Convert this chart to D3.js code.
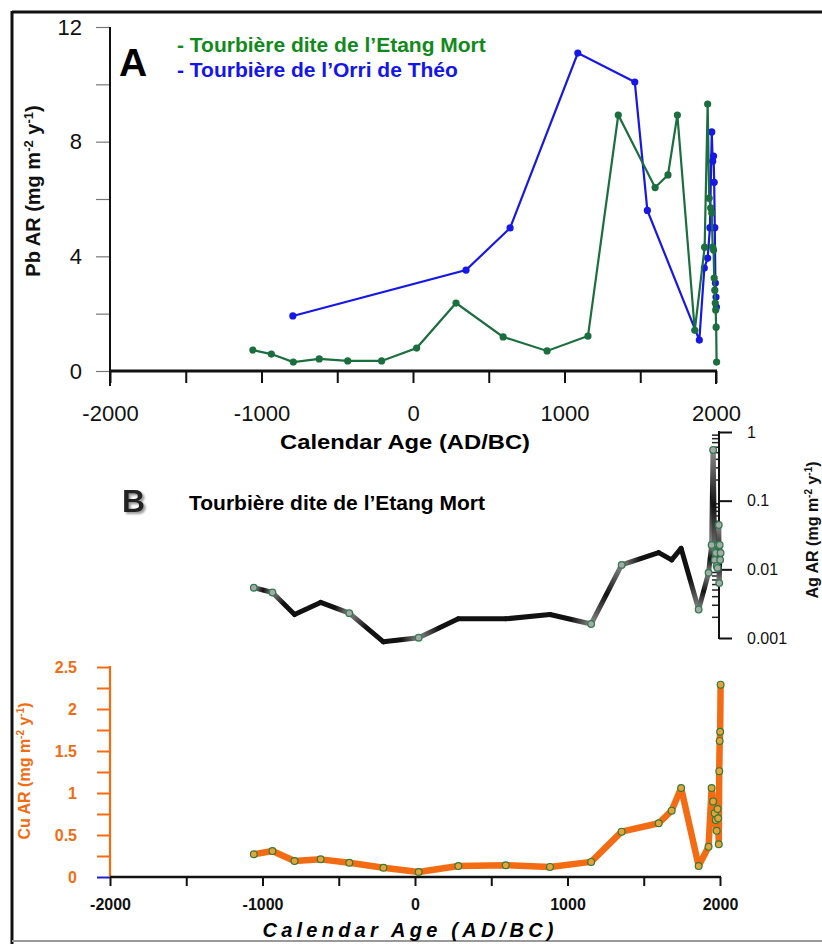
<!DOCTYPE html>
<html><head><meta charset="utf-8">
<script src="https://cdn.jsdelivr.net/npm/d3@7"></script>
<style>
html,body{margin:0;padding:0;background:#fff;}
svg{display:block;font-family:"Liberation Sans",Arial,sans-serif;}
</style></head>
<body>
<svg id="chart" width="822" height="944"></svg>
<script>
// ---------- DATA ----------
// Tourbière dite de l'Etang Mort (shared sample ages)
const etangYears = [-1057,-935,-790,-619,-431,-207,24,284,595,885,1155,1355,1598,1683,1745,1860,
  1925,1945,1955,1965,1972,1978,1984,1988,1992,1995,1998,2001,2004];
const etangPb = [0.73,0.59,0.31,0.42,0.35,0.35,0.80,2.37,1.19,0.70,1.22,8.93,6.40,6.84,8.93,1.42,
  4.32,9.31,6.03,5.69,5.51,4.32,4.22,3.24,2.82,2.37,2.13,1.53,0.31];
const etangAg = [0.0054,0.0046,0.0022,0.0033,0.0023,0.00088,0.00101,0.0019,0.0019,0.0022,0.0016,0.0116,0.0175,0.0137,0.0202,0.0026,
  0.0089,0.0226,0.547,0.0137,0.0173,0.0112,0.0105,0.0226,0.0442,0.0063,0.0226,0.0137,0.0173];
const etangAgMarked = [1,1,0,0,1,0,1,0,0,0,1,1,0,0,0,1, 1,1,1,1,1,1,1,1,1,1,1,1,1];
const etangCu = [0.27,0.31,0.19,0.21,0.17,0.11,0.06,0.13,0.14,0.12,0.18,0.54,0.64,0.79,1.06,0.13,
  0.36,1.06,0.90,0.76,0.68,0.55,0.81,0.70,0.39,1.26,1.62,1.73,2.29];
// Tourbière de l'Orri de Théo
const orriYears = [-793,350,641,1088,1464,1547,1890,1923,1945,1960,1972,1978,1984,1988,1992,1996,2000,2003];
const orriPb = [1.92,3.52,4.99,11.09,10.08,5.60,1.08,3.59,3.94,5.0,8.34,7.32,7.5,6.58,5.0,3.07,2.58,2.23];
// Tick values
const pbTicks = [0,2,4,6,8,10,12];
const pbTickLabels = [0,4,8,12];
const yearTicks = [-2000,-1500,-1000,-500,0,500,1000,1500,2000];
const yearTickLabels = [-2000,-1000,0,1000,2000];
const agTicks = [0.001,0.01,0.1,1];
const cuTicks = [0,0.25,0.5,0.75,1,1.25,1.5,1.75,2,2.25,2.5];
const cuTickLabels = [0,0.5,1,1.5,2,2.5];
const legendLabels = ["- Tourbière dite de l\u2019Etang Mort","- Tourbière de l\u2019Orri de Théo"];

// ---------- SETUP ----------
const svg = d3.select("#chart");
const GREEN = "#1b6e3e", BLUE = "#1717e8", ORANGE = "#f36c13";
const defs = svg.append("defs");
const shadow = defs.append("filter").attr("id","shadowB").attr("x","-20%").attr("y","-20%").attr("width","160%").attr("height","160%");
shadow.append("feDropShadow").attr("dx",2).attr("dy",2).attr("stdDeviation",0.8).attr("flood-color","#999");

// frame
svg.append("line").attr("x1",12).attr("x2",822).attr("y1",12).attr("y2",12).attr("stroke","#111").attr("stroke-width",3);
svg.append("line").attr("x1",12).attr("x2",12).attr("y1",11).attr("y2",944).attr("stroke","#111").attr("stroke-width",3);
svg.append("line").attr("x1",12).attr("x2",822).attr("y1",941).attr("y2",941).attr("stroke","#999").attr("stroke-width",2);

// ---------- PANEL A ----------
const xA = d3.scaleLinear().domain([-2000,2000]).range([110,716]);
const yPb = d3.scaleLinear().domain([0,12]).range([371,27]);

const gyA = svg.append("g").attr("transform","translate(110,0)")
  .call(d3.axisLeft(yPb).tickValues(pbTicks).tickSize(14).tickPadding(14)
     .tickFormat(d => pbTickLabels.includes(d) ? d : ""));
gyA.select(".domain").remove();
gyA.selectAll(".tick line").attr("stroke","#777").attr("stroke-width",1.2);
gyA.selectAll(".tick text").attr("font-size",22).attr("fill","#111");
svg.append("line").attr("x1",110).attr("x2",110).attr("y1",27).attr("y2",386).attr("stroke","#111").attr("stroke-width",2);

const gxA = svg.append("g").attr("transform","translate(0,371)")
  .call(d3.axisBottom(xA).tickValues(yearTicks).tickSize(12).tickPadding(22)
     .tickFormat(d => yearTickLabels.includes(d) ? String(d) : ""));
gxA.select(".domain").remove();
gxA.selectAll(".tick line").attr("stroke","#111").attr("stroke-width",2);
gxA.selectAll(".tick text").attr("font-size",22).attr("fill","#111");
svg.append("line").attr("x1",110).attr("x2",717).attr("y1",371).attr("y2",371).attr("stroke","#111").attr("stroke-width",3);
svg.append("line").attr("x1",716).attr("x2",716).attr("y1",371).attr("y2",384).attr("stroke","#111").attr("stroke-width",2);

svg.append("text").attr("x",405).attr("y",449).attr("text-anchor","middle")
  .attr("font-size",21).attr("font-weight","bold").attr("textLength",250).attr("lengthAdjust","spacingAndGlyphs")
  .text("Calendar Age (AD/BC)");

// Pb axis title
const pbT = svg.append("text").attr("transform","translate(40,191) rotate(-90)").attr("text-anchor","middle")
  .attr("font-size",20).attr("font-weight","bold").attr("fill","#111");
pbT.append("tspan").text("Pb AR (mg m");
pbT.append("tspan").attr("font-size",13).attr("dy",-7).text("-2");
pbT.append("tspan").attr("dy",7).text(" y");
pbT.append("tspan").attr("font-size",13).attr("dy",-7).text("-1");
pbT.append("tspan").attr("dy",7).text(")");

svg.append("text").attr("x",119).attr("y",76).attr("font-size",39).attr("font-weight","bold").attr("fill","#000").text("A");
svg.append("text").attr("x",177).attr("y",52).attr("font-size",21).attr("font-weight","bold").attr("fill","#118a1b").text(legendLabels[0]);
svg.append("text").attr("x",177).attr("y",77).attr("font-size",21).attr("font-weight","bold").attr("fill","#1414ee").text(legendLabels[1]);

const lineA = d3.line().x(d => xA(d[0])).y(d => yPb(d[1]));
const orri = orriYears.map((y,i) => [y, orriPb[i]]);
const etang = etangYears.map((y,i) => [y, etangPb[i]]);
svg.append("path").datum(orri).attr("d",lineA).attr("fill","none").attr("stroke",BLUE).attr("stroke-width",2.2);
svg.selectAll(".bp").data(orri).enter().append("circle").attr("cx",d=>xA(d[0])).attr("cy",d=>yPb(d[1])).attr("r",3.6).attr("fill",BLUE);
svg.append("path").datum(etang).attr("d",lineA).attr("fill","none").attr("stroke",GREEN).attr("stroke-width",2.2);
svg.selectAll(".gp").data(etang).enter().append("circle").attr("cx",d=>xA(d[0])).attr("cy",d=>yPb(d[1])).attr("r",3.6).attr("fill",GREEN);

// ---------- PANEL B ----------
const xB = d3.scaleLinear().domain([-2000,2000]).range([110,720]);
const yAg = d3.scaleLog().domain([0.001,1]).range([638,432]);
const yCu = d3.scaleLinear().domain([0,2.5]).range([877,667]);

svg.append("text").attr("x",122).attr("y",512).attr("font-size",32).attr("font-weight","bold").attr("fill","#222")
  .attr("filter","url(#shadowB)").text("B");
svg.append("text").attr("x",189).attr("y",510).attr("font-size",21).attr("font-weight","bold").attr("fill","#000").text("Tourbière dite de l\u2019Etang Mort");

// Ag axis
const gAg = svg.append("g").attr("transform","translate(719,0)")
  .call(d3.axisRight(yAg).tickValues(agTicks).tickSize(13).tickPadding(15).tickFormat(d => String(d)));
gAg.select(".domain").remove();
gAg.selectAll(".tick line").attr("stroke","#111").attr("stroke-width",2);
gAg.selectAll(".tick text").attr("font-size",16).attr("fill","#111");
const minor = [];
for (let e = -3; e < 0; e++) for (let m = 2; m <= 9; m++) minor.push(m * Math.pow(10, e));
svg.selectAll(".agm").data(minor).enter().append("line")
  .attr("x1",712).attr("x2",719).attr("y1",d=>yAg(d)).attr("y2",d=>yAg(d)).attr("stroke","#222").attr("stroke-width",1.5);
svg.append("line").attr("x1",719).attr("x2",719).attr("y1",431).attr("y2",639).attr("stroke","#111").attr("stroke-width",2);

const agT = svg.append("text").attr("transform","translate(818,530) rotate(-90)").attr("text-anchor","middle")
  .attr("font-size",16).attr("font-weight","bold").attr("fill","#111");
agT.append("tspan").text("Ag AR (mg m");
agT.append("tspan").attr("font-size",10).attr("dy",-6).text("-2");
agT.append("tspan").attr("dy",6).text(" y");
agT.append("tspan").attr("font-size",10).attr("dy",-6).text("-1");
agT.append("tspan").attr("dy",6).text(")");

// Ag line with per-segment shading
const ag = etangYears.map((y,i) => ({x:xB(y), y:yAg(etangAg[i]), m:etangAgMarked[i]}));
for (let i = 0; i < ag.length - 1; i++) {
  const a = ag[i], b = ag[i+1];
  const gid = "agg" + i;
  const g = defs.append("linearGradient").attr("id",gid).attr("gradientUnits","userSpaceOnUse")
    .attr("x1",a.x).attr("y1",a.y).attr("x2",b.x).attr("y2",b.y);
  g.append("stop").attr("offset",0).attr("stop-color",a.m ? "#8a8a8a" : "#111");
  g.append("stop").attr("offset",0.5).attr("stop-color","#111");
  g.append("stop").attr("offset",1).attr("stop-color",b.m ? "#8a8a8a" : "#111");
  svg.append("line").attr("x1",a.x).attr("y1",a.y).attr("x2",b.x).attr("y2",b.y)
    .attr("stroke",`url(#${gid})`).attr("stroke-width",5).attr("stroke-linecap","round");
}
svg.selectAll(".agp").data(ag.filter(d => d.m)).enter().append("circle")
  .attr("cx",d=>d.x).attr("cy",d=>d.y).attr("r",3.3).attr("fill","#a8a8a8").attr("stroke","#2e7d4f").attr("stroke-width",1.3);

// Cu axis
const gCu = svg.append("g").attr("transform","translate(110,0)")
  .call(d3.axisLeft(yCu).tickValues(cuTicks).tickSize(13).tickPadding(20)
    .tickFormat(d => cuTickLabels.includes(d) ? String(d) : ""));
gCu.select(".domain").remove();
gCu.selectAll(".tick line").attr("stroke",ORANGE).attr("stroke-width",2);
gCu.selectAll(".tick text").attr("font-size",16).attr("font-weight","bold").attr("fill",ORANGE);
gCu.selectAll(".tick").filter(d => d === 0).select("line").attr("stroke","#2020d0");
svg.append("line").attr("x1",110).attr("x2",110).attr("y1",666).attr("y2",877).attr("stroke",ORANGE).attr("stroke-width",2.2);

const cuT = svg.append("text").attr("transform","translate(30,771) rotate(-90)").attr("text-anchor","middle")
  .attr("font-size",16).attr("font-weight","bold").attr("fill",ORANGE);
cuT.append("tspan").text("Cu AR (mg m");
cuT.append("tspan").attr("font-size",10).attr("dy",-6).text("-2");
cuT.append("tspan").attr("dy",6).text(" y");
cuT.append("tspan").attr("font-size",10).attr("dy",-6).text("-1");
cuT.append("tspan").attr("dy",6).text(")");

// bottom x axis
const gxB = svg.append("g").attr("transform","translate(0,877)")
  .call(d3.axisBottom(xB).tickValues(yearTicks).tickSize(9).tickPadding(13)
    .tickFormat(d => yearTickLabels.includes(d) ? String(d) : ""));
gxB.select(".domain").remove();
gxB.selectAll(".tick line").attr("stroke","#111").attr("stroke-width",2);
gxB.selectAll(".tick text").attr("font-size",16).attr("font-weight","bold").attr("fill","#111");
svg.append("line").attr("x1",110).attr("x2",721).attr("y1",877).attr("y2",877).attr("stroke","#111").attr("stroke-width",2.6);

svg.append("text").attr("x",408).attr("y",937).attr("text-anchor","middle")
  .attr("font-size",20).attr("font-weight","bold").attr("font-style","italic")
  .attr("textLength",291).attr("lengthAdjust","spacing").text("Calendar Age (AD/BC)");

// Cu line
const cu = etangYears.map((y,i) => [y, etangCu[i]]);
const lineCu = d3.line().x(d => xB(d[0])).y(d => yCu(d[1]));
svg.append("path").datum(cu).attr("d",lineCu).attr("fill","none").attr("stroke",ORANGE).attr("stroke-width",6.5).attr("stroke-linejoin","round");
svg.selectAll(".cp").data(cu).enter().append("circle").attr("cx",d=>xB(d[0])).attr("cy",d=>yCu(d[1])).attr("r",3.4)
  .attr("fill","#e9a23a").attr("stroke","#2e7d3a").attr("stroke-width",1.2);
</script>
</body></html>
